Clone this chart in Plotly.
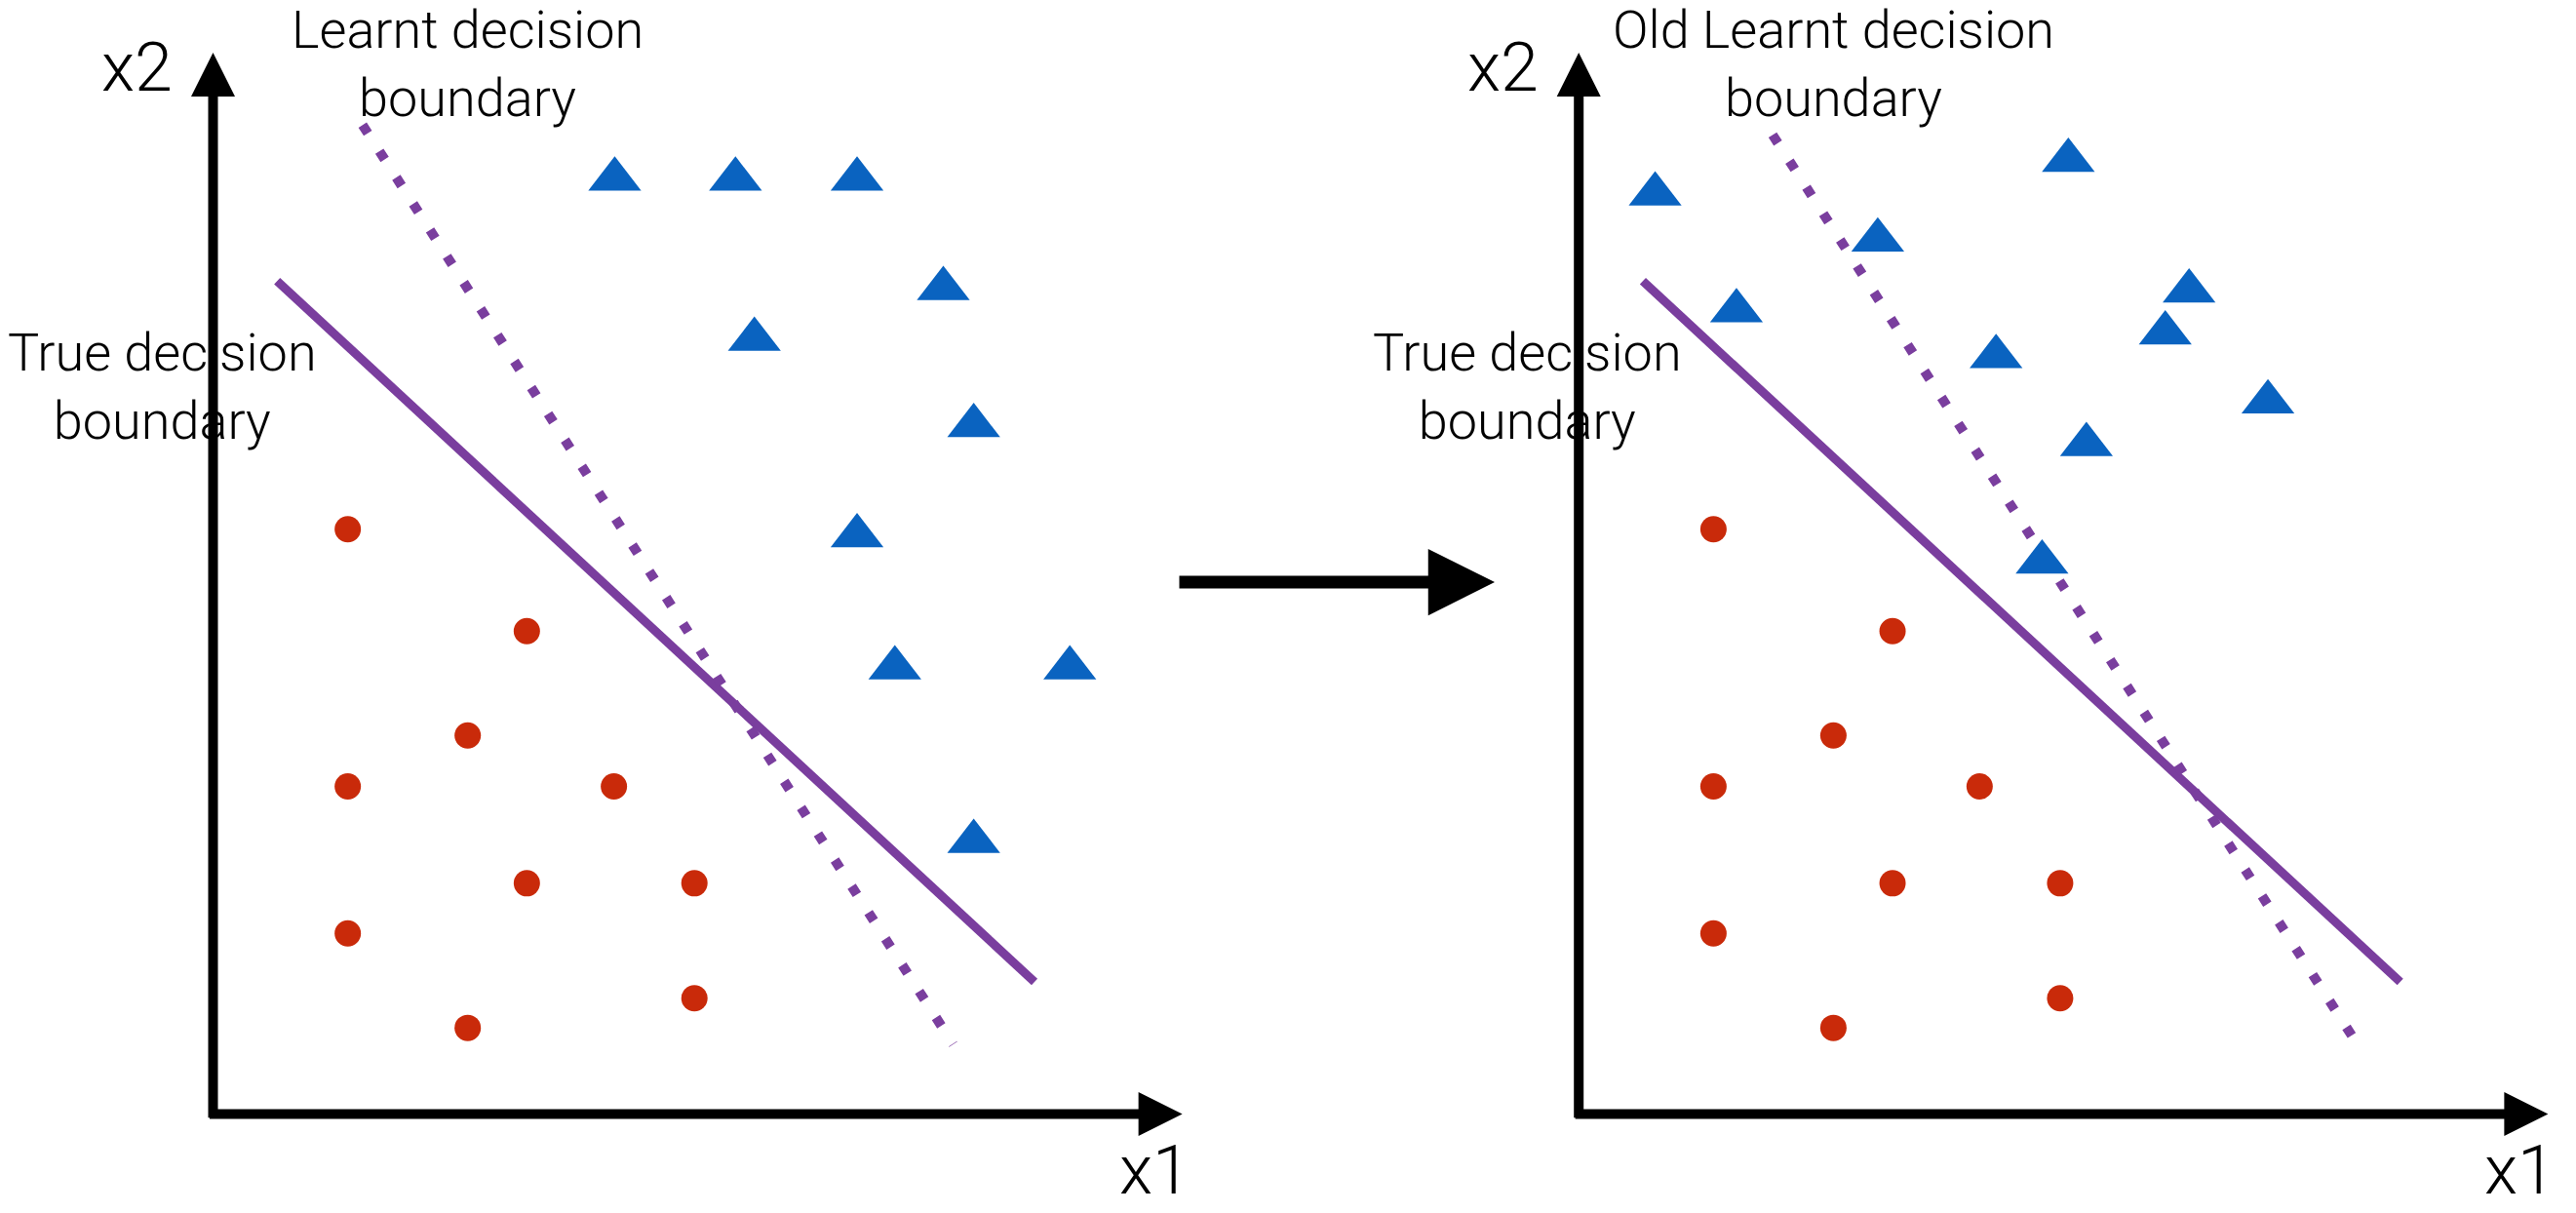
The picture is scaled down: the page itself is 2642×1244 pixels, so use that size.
import plotly.graph_objects as go

# ---------------- data (logical x1/x2 units, origin at axes corner) ----------------
# red circles (identical in both panels)
red_x1 = [1.64, 3.82, 3.10, 1.64, 4.88, 3.82, 5.86, 1.64, 3.10, 5.86]
red_x2 = [7.12, 5.88, 4.61, 3.99, 3.99, 2.81, 2.81, 2.20, 1.05, 1.41]

# blue triangles, left panel
blue_left_x1 = [4.89, 6.36, 7.84, 8.89, 6.59, 9.26, 7.84, 8.30, 10.43, 9.26]
blue_left_x2 = [11.38, 11.38, 11.38, 10.05, 9.43, 8.38, 7.04, 5.43, 5.43, 3.32]

# blue triangles, right panel
blue_right_x1 = [0.93, 3.64, 5.96, 1.92, 7.43, 7.14, 5.08, 8.39, 6.18, 5.64]
blue_right_x2 = [11.20, 10.64, 11.61, 9.78, 10.02, 9.51, 9.22, 8.67, 8.15, 6.72]

# true decision boundary (solid), both panels
true_x1 = [0.78, 10.00]
true_x2 = [10.14, 1.61]

# learnt decision boundaries (dotted)
learnt_left_x1 = [1.82, 9.01]
learnt_left_x2 = [12.04, 0.85]
learnt_right_x1 = [2.36, 9.55]
learnt_right_x2 = [11.92, 0.74]

# axis extents
axis_x1_end = 11.8
axis_x2_end = 12.92

# text labels
title_left = "Learnt decision<br>boundary"
title_right = "Old Learnt decision<br>boundary"
true_label = "True decision<br>boundary"

# ---------------- styling / layout ----------------
W, H = 2642, 1244
UNIT = 84.25  # px per logical unit
RED = "#C92A0A"
BLUE = "#0A63C0"
PURPLE = "#7A3E9E"
FONT = "Helvetica Neue, Roboto, Liberation Sans, sans-serif"

# origin pixel positions (full size) of each panel
left_origin = (218.5, 1142.6)
right_origin = (1619.2, 1142.6)


def ranges(origin, dom):
    x0 = dom[0] * W
    x1 = dom[1] * W
    xr = [(x0 - origin[0]) / UNIT, (x1 - origin[0]) / UNIT]
    yr = [-(H - origin[1]) / UNIT, origin[1] / UNIT]
    return xr, yr


lxr, lyr = ranges(left_origin, (0, 0.5))
rxr, ryr = ranges(right_origin, (0.5, 1))

fig = go.Figure()

panels = [
    ("x", "y", blue_left_x1, blue_left_x2, learnt_left_x1, learnt_left_x2, title_left),
    ("x2", "y2", blue_right_x1, blue_right_x2, learnt_right_x1, learnt_right_x2, title_right),
]

annotations = []
for xa, ya, bx, by, lx, ly, title in panels:
    fig.add_trace(go.Scatter(x=true_x1, y=true_x2, mode="lines",
                             line=dict(color=PURPLE, width=9), xaxis=xa, yaxis=ya,
                             hoverinfo="skip"))
    fig.add_trace(go.Scatter(x=lx, y=ly, mode="lines",
                             line=dict(color=PURPLE, width=10, dash="10px,22px"),
                             xaxis=xa, yaxis=ya, hoverinfo="skip"))
    fig.add_trace(go.Scatter(x=red_x1, y=red_x2, mode="markers",
                             marker=dict(color=RED, size=27, line=dict(width=0)),
                             xaxis=xa, yaxis=ya))
    fig.add_trace(go.Scatter(x=bx, y=by, mode="markers",
                             marker=dict(color=BLUE, size=47, symbol="triangle-up",
                                         line=dict(width=0)),
                             xaxis=xa, yaxis=ya))
    # axes with arrowheads
    annotations.append(dict(x=axis_x1_end, y=0, ax=-0.06, ay=0, xref=xa, yref=ya,
                            axref=xa, ayref=ya, text="", showarrow=True, arrowhead=2,
                            arrowwidth=10, arrowsize=0.9, arrowcolor="black"))
    annotations.append(dict(x=0, y=axis_x2_end, ax=0, ay=-0.06, xref=xa, yref=ya,
                            axref=xa, ayref=ya, text="", showarrow=True, arrowhead=2,
                            arrowwidth=10, arrowsize=0.9, arrowcolor="black"))
    annotations.append(dict(x=-0.92, y=12.74, xref=xa, yref=ya, text="x2", showarrow=False,
                            font=dict(size=70, color="black", family=FONT, weight=300)))
    annotations.append(dict(x=11.46, y=lyr[0] + 0.01, xref=xa, yref=ya, text="x1",
                            showarrow=False, yanchor="bottom",
                            font=dict(size=70, color="black", family=FONT, weight=300)))
    annotations.append(dict(x=3.10, y=12.78, xref=xa, yref=ya, text=title, showarrow=False,
                            font=dict(size=54, color="black", family=FONT, weight=300)))
    annotations.append(dict(x=-0.62, y=8.86, xref=xa, yref=ya, text=true_label,
                            showarrow=False,
                            font=dict(size=54, color="black", family=FONT, weight=300)))

# arrow between the panels
annotations.append(dict(x=1533 / W, y=1 - 597 / H, xref="paper", yref="paper",
                        ax=-325, ay=0, axref="pixel", ayref="pixel", text="",
                        showarrow=True, arrowhead=2, arrowwidth=13, arrowsize=1.05,
                        arrowcolor="black"))

fig.update_layout(
    width=W, height=H,
    margin=dict(l=0, r=0, t=0, b=0, pad=0),
    paper_bgcolor="white", plot_bgcolor="white",
    showlegend=False,
    xaxis=dict(domain=[0, 0.5], range=lxr, visible=False, fixedrange=True),
    yaxis=dict(domain=[0, 1], range=lyr, visible=False, fixedrange=True),
    xaxis2=dict(domain=[0.5, 1], range=rxr, visible=False, fixedrange=True, anchor="y2"),
    yaxis2=dict(domain=[0, 1], range=ryr, visible=False, fixedrange=True, anchor="x2"),
    annotations=annotations,
)

fig.write_html(
    "out.html",
    config={"displayModeBar": False},
    post_script="document.body.style.margin='0';document.body.style.overflow='hidden';",
)
